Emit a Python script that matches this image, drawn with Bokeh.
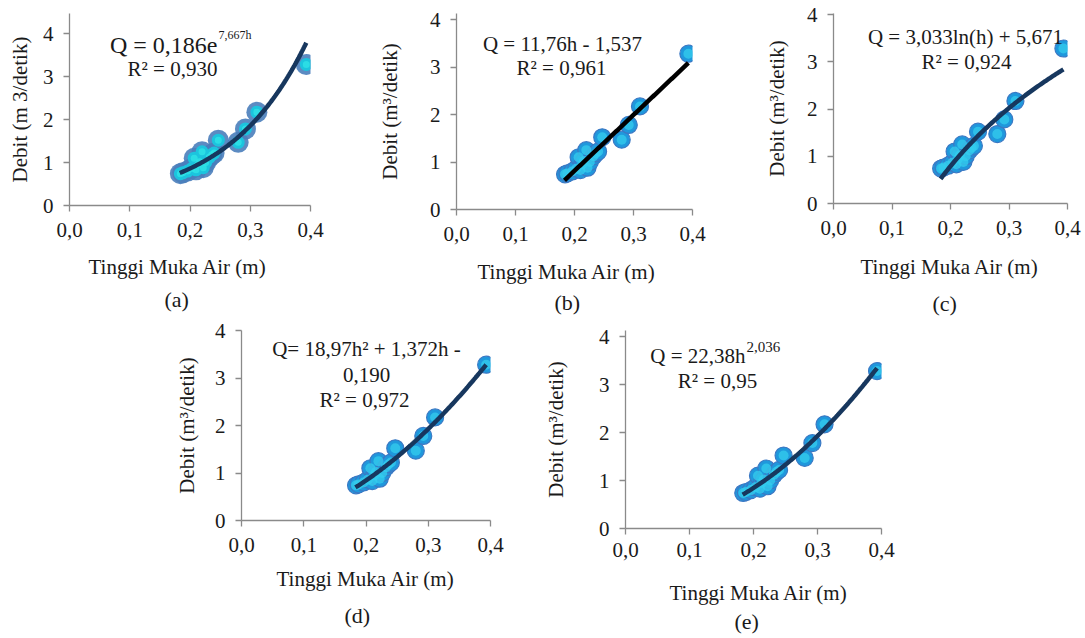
import numpy as np
from bokeh.plotting import figure
from bokeh.layouts import column, row
from bokeh.models import Spacer, Label, Title, FixedTicker, CustomJSTickFormatter, Range1d
from bokeh.embed import file_html
from bokeh.resources import INLINE

# ---------------- data ----------------
h_obs = [0.184, 0.188, 0.196, 0.203, 0.207, 0.210, 0.213, 0.216, 0.220, 0.222,
         0.226, 0.232, 0.236, 0.240, 0.247, 0.280, 0.292, 0.311, 0.393]
q_obs = [0.74, 0.76, 0.80, 0.86, 1.10, 0.83, 0.95, 1.02, 1.25, 0.88,
         1.00, 1.12, 1.18, 1.22, 1.52, 1.47, 1.78, 2.17, 3.28]

x_ticks = [0.0, 0.1, 0.2, 0.3, 0.4]
y_ticks = [0, 1, 2, 3, 4]

fit_h_range = [0.183, 0.393]
coef_exp = [0.186, 7.667]          # Q = a e^(b h)
coef_lin = [11.76, -1.537]         # Q = a h + b
coef_log = [3.033, 5.671]          # Q = a ln(h) + b
coef_poly = [18.97, 1.372, -0.190] # Q = a h^2 + b h + c
coef_pow = [22.38, 2.036]          # Q = a h^b

panel_letters = ["(a)", "(b)", "(c)", "(d)", "(e)"]
y_titles = ["Debit (m 3/detik)", "Debit (m\u00b3/detik)", "Debit (m\u00b3/detik)",
            "Debit (m\u00b3/detik)", "Debit (m\u00b3/detik)"]
x_title = "Tinggi Muka Air (m)"

FONT = "Liberation Serif"
AXIS_COL = "#8a8a8a"
TXT = "#1a1a1a"
NAVY = "#17375e"
FS = "21px"

hh = np.linspace(fit_h_range[0], fit_h_range[1], 120)
fits = [
    coef_exp[0] * np.exp(coef_exp[1] * hh),
    coef_lin[0] * hh + coef_lin[1],
    coef_log[0] * np.log(hh) + coef_log[1],
    coef_poly[0] * hh ** 2 + coef_poly[1] * hh + coef_poly[2],
    coef_pow[0] * hh ** coef_pow[1],
]


def make_panel(idx, fig_x, fig_y, width, height, frame, px_per_unit, line_color,
               ylab_standoff, tick_standoff, gap, xt_off, xt_standoff, cap_off, glow=False):
    left, top, fw, fh = frame  # frame in page pixels
    ymax = fh / px_per_unit
    p = figure(frame_width=fw, frame_height=fh, output_backend="svg", toolbar_location=None,
               x_range=Range1d(0, 0.4), y_range=Range1d(0, ymax),
               min_border_left=left - fig_x, min_border_top=top - fig_y,
               min_border_right=width - (left - fig_x) - fw,
               min_border_bottom=height - (top - fig_y) - fh)
    p.outline_line_color = None
    p.grid.visible = False
    p.background_fill_color = "white"
    p.border_fill_color = "white"

    for ax in (p.xaxis[0], p.yaxis[0]):
        ax.axis_line_color = AXIS_COL
        ax.axis_line_width = 1.3
        ax.major_tick_line_color = AXIS_COL
        ax.major_tick_line_width = 1.3
        ax.major_tick_in = 0
        ax.major_tick_out = 6
        ax.minor_tick_line_color = None
        ax.major_label_text_font = FONT
        ax.major_label_text_font_size = FS
        ax.major_label_text_color = TXT
    p.xaxis.ticker = FixedTicker(ticks=x_ticks)
    p.yaxis.ticker = FixedTicker(ticks=y_ticks)
    p.xaxis.formatter = CustomJSTickFormatter(code="return tick.toFixed(1).replace('.', ',');")
    p.yaxis.formatter = CustomJSTickFormatter(code="return tick.toFixed(0);")
    p.xaxis.major_label_standoff = tick_standoff
    p.yaxis.major_label_standoff = 10
    p.yaxis.axis_label = y_titles[idx]
    p.yaxis.axis_label_text_font = FONT
    p.yaxis.axis_label_text_font_size = FS
    p.yaxis.axis_label_text_font_style = "normal"
    p.yaxis.axis_label_text_color = TXT
    p.yaxis.axis_label_standoff = ylab_standoff

    if gap > 0:
        p.add_layout(Title(text=" ", text_font_size="1px", standoff=gap,
                           text_color="white"), "below")
    p.add_layout(Title(text=x_title, align="left", offset=xt_off, standoff=xt_standoff,
                       text_font=FONT, text_font_size=FS, text_font_style="normal",
                       text_color=TXT), "below")
    p.add_layout(Title(text=panel_letters[idx], align="left", offset=cap_off,
                       standoff=0, text_font=FONT, text_font_size="22px",
                       text_font_style="normal", text_color=TXT), "below")

    if glow:
        p.scatter(h_obs, q_obs, size=21, fill_color="#4a7ebb", line_color=None, fill_alpha=0.9)
        p.scatter(h_obs, q_obs, size=13, fill_color="#1cc4de", line_color=None)
        p.scatter(h_obs, q_obs, size=7, fill_color="#2fe3e6", line_color=None, fill_alpha=0.8)
    else:
        p.scatter(h_obs, q_obs, size=17, fill_color="#1f98dc", line_color="#3c79c4", line_width=1.2)
        p.scatter(h_obs, q_obs, size=10, fill_color="#34cdee", line_color=None, fill_alpha=0.75)
    p.line(hh, fits[idx], line_color=line_color, line_width=4.5)

    def d(px, py):
        return (px - left) / fw * 0.4, (top + fh - py) / fh * ymax

    def lab(px, py, text, align="center", size=FS):
        x, y = d(px, py)
        p.add_layout(Label(x=x, y=y, text=text, text_align=align, text_baseline="alphabetic",
                           text_font=FONT, text_font_size=size, text_color=TXT))
    return p, lab


TOP_H = 318

# (a)
pa, lab = make_panel(0, 0, 0, 370, TOP_H, (69, 13, 241, 192), 43.0, NAVY,
                     8, 11, 4, 19, 12, 95, glow=True)
lab(217, 44, "Q = 0,186e", align="right", size="24px")
lab(218, 34, "7,667h", align="left", size="12px")
lab(172, 68, "R\u00b2 = 0,930")

# (b)
pb, lab = make_panel(1, 370, 0, 390, TOP_H, (456, 13, 236, 196), 47.5, "#000000",
                     25, 11, 8, 21, 7, 98)
lab(562, 43, "Q = 11,76h - 1,537")
lab(561, 67, "R\u00b2 = 0,961")

# (c)
pc, lab = make_panel(2, 760, 0, 325, TOP_H, (833, 13, 234, 190), 47.25, NAVY,
                     15, 11, 2, 27, 20, 99)
lab(965, 36, "Q = 3,033ln(h) + 5,671")
lab(966, 61, "R\u00b2 = 0,924")

# (d)
pd_, lab = make_panel(3, 170, TOP_H, 370, 638 - TOP_H, (241, 330, 249, 190), 47.5, NAVY,
                      13, 11, 0, 35, 20, 103)
lab(366, 348, "Q= 18,97h\u00b2 + 1,372h -")
lab(366, 374, "0,190")
lab(364, 399, "R\u00b2 = 0,972")

# (e)
pe, lab = make_panel(4, 540, TOP_H, 379, 638 - TOP_H, (623, 330, 256, 198), 48.0, NAVY,
                     28, 8, 14, 44, 4, 109)
lab(743, 355, "Q = 22,38h", align="right")
lab(744, 346, "2,036", align="left", size="15px")
lab(715, 380, "R\u00b2 = 0,95")

layout = column(row(pa, pb, pc), row(Spacer(width=170, height=638 - TOP_H), pd_, pe))

open("out.html", "w").write(file_html(layout, INLINE))
